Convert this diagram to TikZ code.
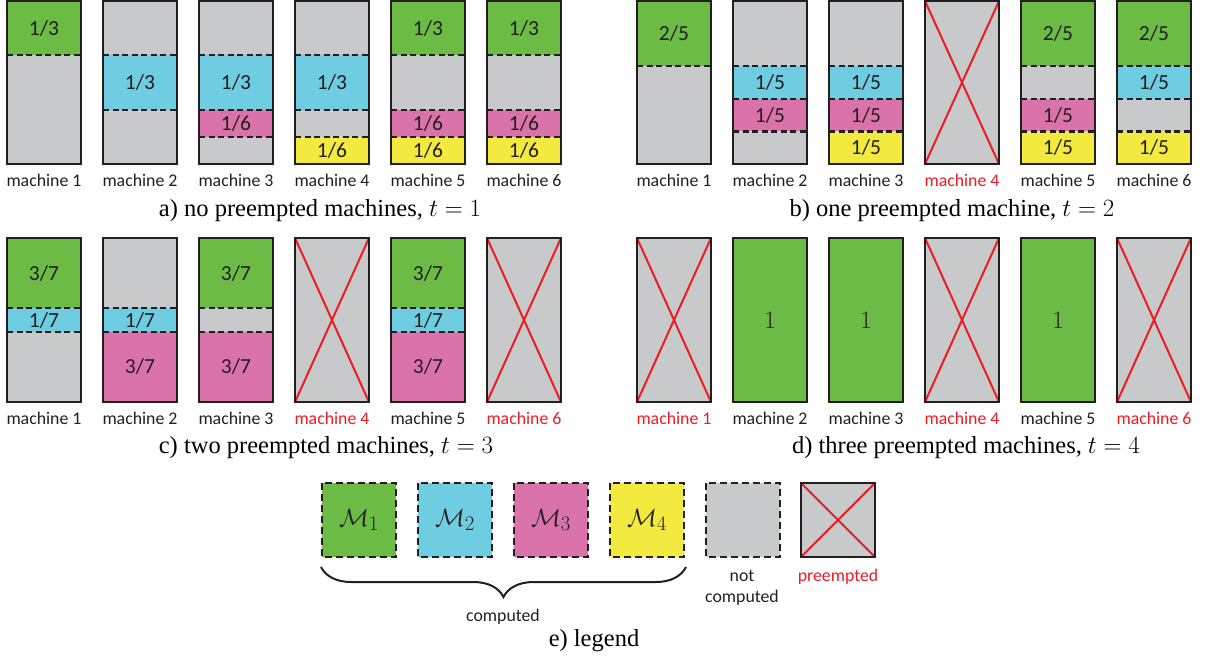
\documentclass[tikz,border=0pt]{standalone}
\usepackage{fontspec}
\setmainfont{Liberation Serif}
\newfontfamily\carl{Carlito}
\usetikzlibrary{decorations.pathreplacing}
\definecolor{cgreen}{RGB}{108,187,69}
\definecolor{cblue}{RGB}{110,205,225}
\definecolor{cpink}{RGB}{219,115,171}
\definecolor{cyellow}{RGB}{243,234,63}
\definecolor{cgray}{RGB}{200,201,203}
\definecolor{cred}{RGB}{237,28,36}
\definecolor{cdark}{RGB}{35,31,32}
\tikzset{
 boxline/.style={draw=cdark, line width=2.4pt},
 segline/.style={draw=cdark, line width=2.2pt, dash pattern=on 6pt off 3.5pt},
 legline/.style={draw=cdark, line width=2.4pt, dash pattern=on 7pt off 4pt},
 xline/.style={draw=cred, line width=2pt},
 frac/.style={font=\carl\fontsize{21.5}{24}\selectfont, text=cdark, inner sep=0pt},
 one/.style={font=\fontsize{24}{26}\selectfont, text=cdark, inner sep=0pt},
 mlab/.style={font=\carl\fontsize{17.8}{21}\selectfont, text=cdark, inner sep=0pt},
 plab/.style={mlab, text=cred},
 capt/.style={font=\fontsize{24.5}{28}\selectfont, text=black, inner sep=0pt},
 mcal/.style={font=\fontsize{29}{32}\selectfont, text=cdark, inner sep=0pt},
}
\newcounter{nd}
\newcommand\gbox[3]{\fill[cgray] (#1,#2) rectangle ({#1+74},{#2+#3});}
\newcommand\seg[7]{\fill[#6] (#1,{#2+(#3)*(#4)}) rectangle ({#1+74},{#2+(#3)*(#5)});
 \stepcounter{nd}\node[frac] (t\arabic{nd}) at ({#1+37},{#2+(#3)*((#4)+(#5))/2}) {#7};}
\newcommand\dl[4]{\draw[segline] (#1,{#2+(#3)*(#4)}) -- ({#1+74},{#2+(#3)*(#4)});}
\newcommand\bx[3]{\draw[boxline] (#1,#2) rectangle ({#1+74},{#2+#3});}
\newcommand\pre[3]{\gbox{#1}{#2}{#3}\draw[xline] (#1,#2) -- ({#1+74},{#2+#3}) (#1,{#2+#3}) -- ({#1+74},#2);\bx{#1}{#2}{#3}}
\newcommand\full[3]{\fill[cgreen] (#1,#2) rectangle ({#1+74},{#2+#3});
 \stepcounter{nd}\node[one] (t\arabic{nd}) at ({#1+37},{#2+(#3)/2}) {$1$};\bx{#1}{#2}{#3}}
\begin{document}
\begin{tikzpicture}[x=1pt,y=-1pt]
\useasboundingbox (0,0) rectangle (1205,662);
% ---------- row a ----------
\def\Y{1}\def\H{163}
\gbox{7}{\Y}{\H}\seg{7}{\Y}{\H}{0}{1/3}{cgreen}{1/3}\dl{7}{\Y}{\H}{1/3}\bx{7}{\Y}{\H}
\gbox{103}{\Y}{\H}\seg{103}{\Y}{\H}{1/3}{2/3}{cblue}{1/3}\dl{103}{\Y}{\H}{1/3}\dl{103}{\Y}{\H}{2/3}\bx{103}{\Y}{\H}
\gbox{199}{\Y}{\H}\seg{199}{\Y}{\H}{1/3}{2/3}{cblue}{1/3}\seg{199}{\Y}{\H}{2/3}{5/6}{cpink}{1/6}
 \dl{199}{\Y}{\H}{1/3}\dl{199}{\Y}{\H}{2/3}\dl{199}{\Y}{\H}{5/6}\bx{199}{\Y}{\H}
\gbox{295}{\Y}{\H}\seg{295}{\Y}{\H}{1/3}{2/3}{cblue}{1/3}\seg{295}{\Y}{\H}{5/6}{1}{cyellow}{1/6}
 \dl{295}{\Y}{\H}{1/3}\dl{295}{\Y}{\H}{2/3}\dl{295}{\Y}{\H}{5/6}\bx{295}{\Y}{\H}
\gbox{391}{\Y}{\H}\seg{391}{\Y}{\H}{0}{1/3}{cgreen}{1/3}\seg{391}{\Y}{\H}{2/3}{5/6}{cpink}{1/6}\seg{391}{\Y}{\H}{5/6}{1}{cyellow}{1/6}
 \dl{391}{\Y}{\H}{1/3}\dl{391}{\Y}{\H}{2/3}\dl{391}{\Y}{\H}{5/6}\bx{391}{\Y}{\H}
\gbox{487}{\Y}{\H}\seg{487}{\Y}{\H}{0}{1/3}{cgreen}{1/3}\seg{487}{\Y}{\H}{2/3}{5/6}{cpink}{1/6}\seg{487}{\Y}{\H}{5/6}{1}{cyellow}{1/6}
 \dl{487}{\Y}{\H}{1/3}\dl{487}{\Y}{\H}{2/3}\dl{487}{\Y}{\H}{5/6}\bx{487}{\Y}{\H}
\node[mlab] (la1) at (44,180) {machine 1};
\node[mlab] (la2) at (140,180) {machine 2};
\node[mlab] (la3) at (236,180) {machine 3};
\node[mlab] (la4) at (332,180) {machine 4};
\node[mlab] (la5) at (428,180) {machine 5};
\node[mlab] (la6) at (524,180) {machine 6};
\node[capt] (capa) at (320,211) {a) no preempted machines, $t=1$};
% ---------- row b ----------
\gbox{637}{\Y}{\H}\seg{637}{\Y}{\H}{0}{0.4}{cgreen}{2/5}\dl{637}{\Y}{\H}{0.4}\bx{637}{\Y}{\H}
\gbox{733}{\Y}{\H}\seg{733}{\Y}{\H}{0.4}{0.6}{cblue}{1/5}\seg{733}{\Y}{\H}{0.6}{0.8}{cpink}{1/5}
 \dl{733}{\Y}{\H}{0.4}\dl{733}{\Y}{\H}{0.6}\dl{733}{\Y}{\H}{0.8}\bx{733}{\Y}{\H}
\gbox{829}{\Y}{\H}\seg{829}{\Y}{\H}{0.4}{0.6}{cblue}{1/5}\seg{829}{\Y}{\H}{0.6}{0.8}{cpink}{1/5}\seg{829}{\Y}{\H}{0.8}{1}{cyellow}{1/5}
 \dl{829}{\Y}{\H}{0.4}\dl{829}{\Y}{\H}{0.6}\dl{829}{\Y}{\H}{0.8}\bx{829}{\Y}{\H}
\pre{925}{\Y}{\H}
\gbox{1021}{\Y}{\H}\seg{1021}{\Y}{\H}{0}{0.4}{cgreen}{2/5}\seg{1021}{\Y}{\H}{0.6}{0.8}{cpink}{1/5}\seg{1021}{\Y}{\H}{0.8}{1}{cyellow}{1/5}
 \dl{1021}{\Y}{\H}{0.4}\dl{1021}{\Y}{\H}{0.6}\dl{1021}{\Y}{\H}{0.8}\bx{1021}{\Y}{\H}
\gbox{1117}{\Y}{\H}\seg{1117}{\Y}{\H}{0}{0.4}{cgreen}{2/5}\seg{1117}{\Y}{\H}{0.4}{0.6}{cblue}{1/5}\seg{1117}{\Y}{\H}{0.8}{1}{cyellow}{1/5}
 \dl{1117}{\Y}{\H}{0.4}\dl{1117}{\Y}{\H}{0.6}\dl{1117}{\Y}{\H}{0.8}\bx{1117}{\Y}{\H}
\node[mlab] (lb1) at (674,180) {machine 1};
\node[mlab] (lb2) at (770,180) {machine 2};
\node[mlab] (lb3) at (866,180) {machine 3};
\node[plab] (lb4) at (962,180) {machine 4};
\node[mlab] (lb5) at (1058,180) {machine 5};
\node[mlab] (lb6) at (1154,180) {machine 6};
\node[capt] (capb) at (952,211) {b) one preempted machine, $t=2$};
% ---------- row c ----------
\def\Y{238}\def\H{164}
\gbox{7}{\Y}{\H}\seg{7}{\Y}{\H}{0}{3/7}{cgreen}{3/7}\seg{7}{\Y}{\H}{3/7}{4/7}{cblue}{1/7}
 \dl{7}{\Y}{\H}{3/7}\dl{7}{\Y}{\H}{4/7}\bx{7}{\Y}{\H}
\gbox{103}{\Y}{\H}\seg{103}{\Y}{\H}{3/7}{4/7}{cblue}{1/7}\seg{103}{\Y}{\H}{4/7}{1}{cpink}{3/7}
 \dl{103}{\Y}{\H}{3/7}\dl{103}{\Y}{\H}{4/7}\bx{103}{\Y}{\H}
\gbox{199}{\Y}{\H}\seg{199}{\Y}{\H}{0}{3/7}{cgreen}{3/7}\seg{199}{\Y}{\H}{4/7}{1}{cpink}{3/7}
 \dl{199}{\Y}{\H}{3/7}\dl{199}{\Y}{\H}{4/7}\bx{199}{\Y}{\H}
\pre{295}{\Y}{\H}
\gbox{391}{\Y}{\H}\seg{391}{\Y}{\H}{0}{3/7}{cgreen}{3/7}\seg{391}{\Y}{\H}{3/7}{4/7}{cblue}{1/7}\seg{391}{\Y}{\H}{4/7}{1}{cpink}{3/7}
 \dl{391}{\Y}{\H}{3/7}\dl{391}{\Y}{\H}{4/7}\bx{391}{\Y}{\H}
\pre{487}{\Y}{\H}
\node[mlab] (lc1) at (44,418) {machine 1};
\node[mlab] (lc2) at (140,418) {machine 2};
\node[mlab] (lc3) at (236,418) {machine 3};
\node[plab] (lc4) at (332,418) {machine 4};
\node[mlab] (lc5) at (428,418) {machine 5};
\node[plab] (lc6) at (524,418) {machine 6};
\node[capt] (capc) at (326,448) {c) two preempted machines, $t=3$};
% ---------- row d ----------
\pre{637}{\Y}{\H}
\full{733}{\Y}{\H}
\full{829}{\Y}{\H}
\pre{925}{\Y}{\H}
\full{1021}{\Y}{\H}
\pre{1117}{\Y}{\H}
\node[plab] (ld1) at (674,418) {machine 1};
\node[mlab] (ld2) at (770,418) {machine 2};
\node[mlab] (ld3) at (866,418) {machine 3};
\node[plab] (ld4) at (962,418) {machine 4};
\node[mlab] (ld5) at (1058,418) {machine 5};
\node[plab] (ld6) at (1154,418) {machine 6};
\node[capt] (capd) at (966,448) {d) three preempted machines, $t=4$};
% ---------- legend ----------
\fill[cgreen] (322,483) rectangle (396,557);
\fill[cblue] (418,483) rectangle (492,557);
\fill[cpink] (514,483) rectangle (588,557);
\fill[cyellow] (610,483) rectangle (684,557);
\fill[cgray] (706,483) rectangle (780,557);
\draw[legline] (322,483) rectangle (396,557);
\draw[legline] (418,483) rectangle (492,557);
\draw[legline] (514,483) rectangle (588,557);
\draw[legline] (610,483) rectangle (684,557);
\draw[legline] (706,483) rectangle (780,557);
\node[mcal] (m1) at (359,520) {$\mathcal{M}_1$};
\node[mcal] (m2) at (455,520) {$\mathcal{M}_2$};
\node[mcal] (m3) at (551,520) {$\mathcal{M}_3$};
\node[mcal] (m4) at (647,520) {$\mathcal{M}_4$};
\fill[cgray] (801,483) rectangle (875,557);
\draw[xline] (801,483) -- (875,557) (801,557) -- (875,483);
\draw[boxline] (801,483) rectangle (875,557);
\coordinate (bl) at (321,567);
\coordinate (br) at (686,567);
\draw[cdark, line width=2pt, decorate, decoration={brace, mirror, amplitude=30pt}] (bl) -- (br);
\node[mlab] (lcomp) at (503,617) {computed};
\node[mlab, align=center] (lnot) at (742,588) {not\\computed};
\node[plab] (lpre) at (838,577) {preempted};
\node[capt] (cape) at (594,641) {e) legend};
\end{tikzpicture}
\end{document}
